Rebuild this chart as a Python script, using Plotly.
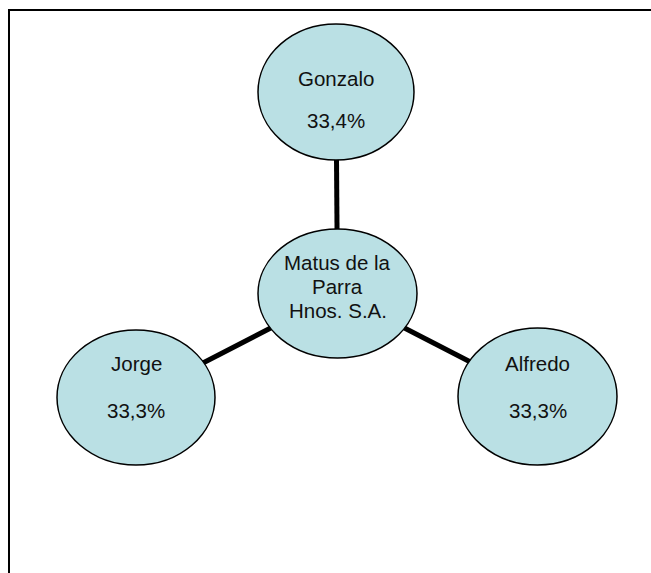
import plotly.graph_objects as go

# ---- data ----
company = "Matus de la<br>Parra<br>Hnos. S.A."
owners = ["Gonzalo", "Jorge", "Alfredo"]
shares = [33.4, 33.3, 33.3]

# ---- layout (pixel-like axis units) ----
W, H = 651, 573
center_box = (258, 417, 229, 358)
owner_boxes = {
    "Gonzalo": (258, 414, 24, 160),
    "Jorge": (57, 215, 330, 465),
    "Alfredo": (458, 617, 328, 465),
}
FILL = "#BAE0E4"

def mid(b):
    return ((b[0] + b[1]) / 2, (b[2] + b[3]) / 2)

fig = go.Figure()

cx, cy = mid(center_box)
for name in owners:
    ox, oy = mid(owner_boxes[name])
    fig.add_trace(go.Scatter(x=[cx, ox], y=[cy, oy], mode="lines",
                             line=dict(color="black", width=5),
                             hoverinfo="skip", showlegend=False))

# frame: only top and left edges are visible in the picture
shapes = [
    dict(type="path", xref="paper", yref="paper",
         path="M 2,%.5f L %.5f,%.5f L %.5f,-1" % (1 - 10 / H, 9 / W, 1 - 10 / H, 9 / W),
         line=dict(color="black", width=2), layer="below"),
]
for b in [center_box] + [owner_boxes[n] for n in owners]:
    shapes.append(dict(type="circle", xref="x", yref="y", x0=b[0], x1=b[1], y0=b[2], y1=b[3],
                       line=dict(color="black", width=1.5), fillcolor=FILL, layer="above"))

font = dict(family="Liberation Sans, Arial, sans-serif", size=20.5, color="#111111")
annotations = []
for i, line in enumerate(company.split("<br>")):
    annotations.append(dict(x=cx, y=262 + i * 24.3, xref="x", yref="y", text=line,
                            showarrow=False, font=font, xanchor="center", yanchor="middle"))
label_y = {"Gonzalo": (78, 120), "Jorge": (363, 410), "Alfredo": (363, 410)}
for name, v in zip(owners, shares):
    ox, _ = mid(owner_boxes[name])
    y1, y2 = label_y[name]
    annotations.append(dict(x=ox, y=y1, xref="x", yref="y", text=name, showarrow=False,
                            font=font, xanchor="center", yanchor="middle"))
    annotations.append(dict(x=ox, y=y2, xref="x", yref="y",
                            text=f"{v:.1f}".replace(".", ",") + "%", showarrow=False,
                            font=font, xanchor="center", yanchor="middle"))

fig.update_layout(
    width=W, height=H, autosize=False,
    margin=dict(l=0, r=0, t=0, b=0),
    paper_bgcolor="white", plot_bgcolor="white",
    xaxis=dict(range=[0, W], visible=False, fixedrange=True),
    yaxis=dict(range=[H, 0], visible=False, fixedrange=True),
    shapes=shapes, annotations=annotations, showlegend=False,
)
fig.write_html("out.html", config={"displayModeBar": False},
               post_script="document.body.style.margin='0';document.body.style.overflow='hidden';")
